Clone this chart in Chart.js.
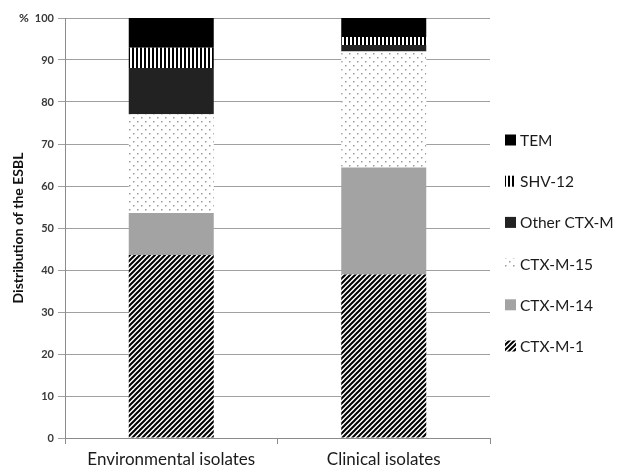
<!DOCTYPE html>
<html>
<head>
<meta charset="utf-8">
<script src="https://cdn.jsdelivr.net/npm/chart.js@4.4.1/dist/chart.umd.min.js"></script>
<style>
  html, body { margin: 0; padding: 0; background: #fff; }
  #wrap { width: 620px; height: 469px; }
</style>
</head>
<body>
<div id="wrap"><canvas id="esblChart"></canvas></div>
<script>
const categories = ["Environmental isolates", "Clinical isolates"];
const seriesNames = ["CTX-M-1", "CTX-M-14", "CTX-M-15", "Other CTX-M", "SHV-12", "TEM"];
const ctxM1 = [43.6, 38.9];
const ctxM14 = [10.0, 25.5];
const ctxM15 = [23.5, 27.6];
const otherCtxM = [11.0, 1.6];
const shv12 = [4.8, 1.9];
const tem = [7.1, 4.5];
const yTicks = [0, 10, 20, 30, 40, 50, 60, 70, 80, 90, 100];

// small canvas tiles used as fill patterns
function makePattern(size, draw) {
    const c = document.createElement("canvas");
    c.width = size; c.height = size;
    const g = c.getContext("2d");
    g.fillStyle = "#fff";
    g.fillRect(0, 0, size, size);
    draw(g, size);
    return g.createPattern(c, "repeat");
}

const diagPattern = makePattern(5, (g, s) => {
    g.strokeStyle = "#000";
    g.lineWidth = 2;
    g.beginPath();
    g.moveTo(-1, s + 1); g.lineTo(s + 1, -1);
    g.moveTo(-1, 1); g.lineTo(1, -1);
    g.moveTo(s - 1, s + 1); g.lineTo(s + 1, s - 1);
    g.stroke();
});
const dotPattern = makePattern(8, (g) => {
    g.fillStyle = "#9a9a9a";
    g.fillRect(1, 1, 1.5, 1.5);
    g.fillRect(5, 5, 1.5, 1.5);
});
const vertPattern = makePattern(4, (g) => {
    g.fillStyle = "#000";
    g.fillRect(0, 0, 2, 4);
});

const fills = [diagPattern, "#a3a3a3", dotPattern, "#222222", vertPattern, "#000000"];
const values = [ctxM1, ctxM14, ctxM15, otherCtxM, shv12, tem];

// "%" above the y axis
const percentLabel = {
    id: "percentLabel",
    afterDraw(chart) {
        const y = chart.scales.y;
        const c = chart.ctx;
        c.save();
        c.font = "bold 12px Lato";
        c.fillStyle = "#333";
        c.textAlign = "left";
        c.textBaseline = "middle";
        c.fillText("%", 19, y.getPixelForValue(100));
        c.restore();
    }
};

// legend on the right, top item = last dataset
const sideLegend = {
    id: "sideLegend",
    afterDraw(chart) {
        const c = chart.ctx;
        const sets = chart.data.datasets.slice().reverse();
        c.save();
        c.font = "15.5px Lato";
        c.textBaseline = "middle";
        c.textAlign = "left";
        sets.forEach((ds, k) => {
            const cy = 140 + k * 41.2;
            c.fillStyle = ds.backgroundColor;
            c.fillRect(505, cy - 5.5, 11, 11);
            c.fillStyle = "#1a1a1a";
            c.fillText(ds.label, 520, cy + 1);
        });
        c.restore();
    }
};

new Chart(document.getElementById("esblChart"), {
    type: "bar",
    data: {
        labels: categories,
        datasets: seriesNames.map((name, i) => ({
            label: name,
            data: values[i],
            backgroundColor: fills[i],
            borderWidth: 0,
            categoryPercentage: 1,
            barPercentage: 0.4
        }))
    },
    options: {
        responsive: true,
        maintainAspectRatio: false,
        animation: false,
        layout: { padding: { top: 18, right: 130, left: 0, bottom: 0 } },
        plugins: {
            tooltip: { enabled: false },
            legend: { display: false }
        },
        scales: {
            x: {
                stacked: true,
                grid: { drawOnChartArea: false, drawTicks: true, tickLength: 6, color: "#8c8c8c" },
                border: { color: "#8c8c8c" },
                ticks: { color: "#1a1a1a", font: { family: "Lato", size: 17 }, padding: 5 },
                afterFit(s) { s.height = 31; }
            },
            y: {
                stacked: true,
                min: 0,
                max: 100,
                afterBuildTicks(s) { s.ticks = yTicks.map(v => ({ value: v })); },
                grid: { color: "#a0a0a0", tickLength: 7 },
                border: { color: "#8c8c8c" },
                ticks: { color: "#3a3a3a", font: { family: "Lato", size: 11, weight: "bold" }, padding: 4 },
                title: {
                    display: true,
                    text: "Distribution of the ESBL",
                    color: "#111",
                    font: { family: "Lato", size: 14, weight: "bold" },
                    padding: { top: 10, bottom: 0 }
                },
                afterFit(s) { s.width = 65; }
            }
        }
    },
    plugins: [percentLabel, sideLegend]
});
</script>
</body>
</html>
